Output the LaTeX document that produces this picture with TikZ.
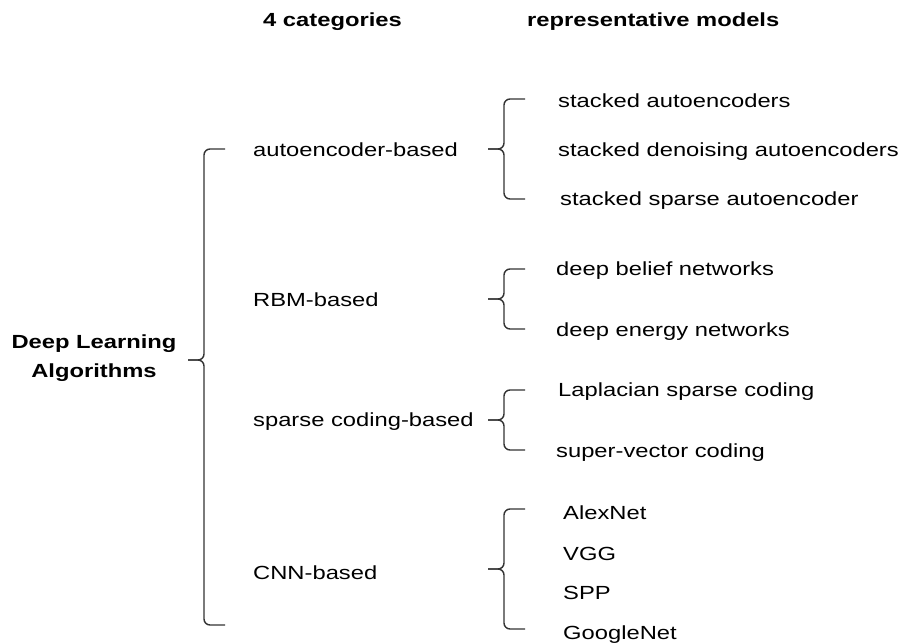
\documentclass[tikz,border=0pt]{standalone}
\usepackage{fontspec}
\setmainfont{Liberation Sans}[FakeStretch=1.25]
\usetikzlibrary{calc}
\tikzset{
  cat/.style={anchor=base west, inner sep=0pt, font=\fontsize{19}{23}\selectfont},
  model/.style={anchor=base west, inner sep=0pt, font=\fontsize{19}{23}\selectfont},
  head/.style={anchor=base west, inner sep=0pt, font=\fontsize{19}{23}\selectfont\bfseries},
  root/.style={align=center, inner sep=0pt, font=\fontsize{19}{29}\selectfont\bfseries},
  brc/.style={draw=black!80, line width=1.4pt, rounded corners=6pt}
}
% curly bracket: tip, upper arm end, lower arm end
\newcommand{\catbrace}[3]{%
  \draw[brc] (#2) -| ($(#1)+(16,0)$) -- (#1);
  \draw[brc] (#1) -- ($(#1)+(16,0)$) |- (#3);
}

\begin{document}
\begin{tikzpicture}[x=1pt, y=-1pt]
  \useasboundingbox (0,0) rectangle (905,644);

  % column heads
  \node[head] (hcat) at (263,27) {4 categories};
  \node[head] (hmod) at (527,27) {representative models};

  \node[root] (dla) at (94,358) {Deep Learning\\Algorithms};

  % categories
  \node[cat] (ae) at (253,157) {autoencoder-based};
  \node[cat] (rbm) at (253,307) {RBM-based};
  \node[cat] (sc) at (253,426) {sparse coding-based};
  \node[cat] (cnn) at (253,579) {CNN-based};

  % models
  \node[model] (ae1) at (558,108) {stacked autoencoders};
  \node[model] (ae2) at (558,157) {stacked denoising autoencoders};
  \node[model] (ae3) at (560,206) {stacked sparse autoencoder};
  \node[model] (rbm1) at (556,276) {deep belief networks};
  \node[model] (rbm2) at (556,337) {deep energy networks};
  \node[model] (sc1) at (558,396) {Laplacian sparse coding};
  \node[model] (sc2) at (556,457) {super-vector coding};
  \node[model] (cnn1) at (563,519) {AlexNet};
  \node[model] (cnn2) at (563,560) {VGG};
  \node[model] (cnn3) at (563,599) {SPP};
  \node[model] (cnn4) at (563,639) {GoogleNet};

  % brackets
  \coordinate (t0) at (188,360);
  \coordinate (u0) at (225,149);
  \coordinate (l0) at (225,625);
  \catbrace{t0}{u0}{l0}
  \coordinate (t1) at (488,149);
  \coordinate (u1) at (525,99);
  \coordinate (l1) at (525,199);
  \catbrace{t1}{u1}{l1}
  \coordinate (t2) at (488,299);
  \coordinate (u2) at (525,269);
  \coordinate (l2) at (525,329);
  \catbrace{t2}{u2}{l2}
  \coordinate (t3) at (488,420);
  \coordinate (u3) at (525,390);
  \coordinate (l3) at (525,450);
  \catbrace{t3}{u3}{l3}
  \coordinate (t4) at (488,569);
  \coordinate (u4) at (525,509);
  \coordinate (l4) at (525,629);
  \catbrace{t4}{u4}{l4}
\end{tikzpicture}
\end{document}
